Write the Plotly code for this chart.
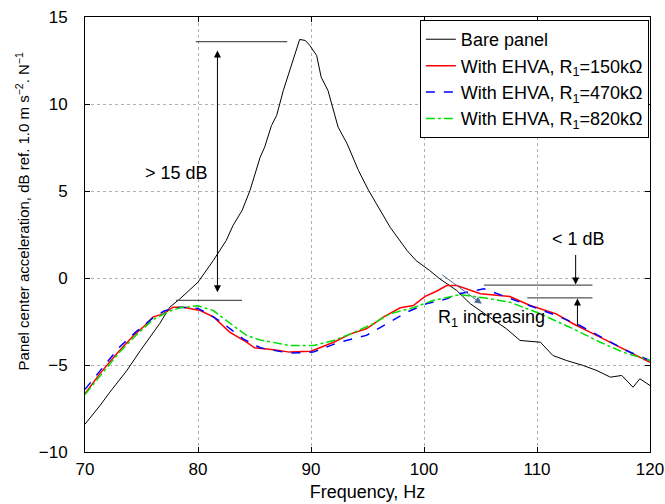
import plotly.graph_objects as go

# ---- data ----
bare_f = [70, 71.33, 72.2, 73.7, 74.9, 75.9, 76.6, 77.5, 78.4, 80.0, 81.35, 82.5, 83.1, 83.9, 84.6,
          85.5, 85.9, 86.5, 86.96, 87.55, 88.1, 88.6, 89.0, 89.5, 89.9, 90.5, 90.9, 91.5, 92.0, 92.4,
          93.2, 94.2, 95.1, 96.3, 97.0, 98.5, 99.3, 100.5, 101.4, 102.9, 104.1, 105.8, 107.3, 108.5,
          110.3, 111.4, 112.6, 114.1, 115.3, 116.5, 117.5, 118.5, 119.1, 120]
bare_v = [-8.4, -7.33, -6.56, -5.32, -4.17, -3.30, -2.63, -1.68, -1.20, -0.24, 1.0, 2.16, 3.02, 3.88, 5.03,
          6.94, 7.52, 8.76, 9.34, 10.78, 11.93, 12.98, 13.71, 13.65, 13.36, 12.79, 11.54, 10.78, 9.63, 8.67,
          7.71, 6.18, 5.03, 3.69, 2.92, 1.58, 1.0, 0.43, -0.05, -0.72, -1.48, -2.25, -2.92, -3.59,
          -3.69, -4.45, -4.74, -5.03, -5.32, -5.70, -5.60, -6.28, -5.79, -6.18]

r150_f = [70, 71.3, 72.8, 74.3, 75.3, 76.0, 76.9, 77.8, 78.7, 80.2, 81.4, 82.8, 84.3, 85.0, 86.7, 88.1,
          90.0, 92.0, 93.5, 94.9, 96.4, 97.9, 99.05, 100.1, 101.1, 102.0, 102.9, 105.0, 107.6, 109.4,
          111.7, 113.2, 115.0, 117.3, 120]
r150_v = [-6.66, -5.51, -4.36, -3.30, -2.73, -2.25, -2.06, -1.68, -1.68, -1.87, -2.25, -3.11, -3.69, -4.01,
          -4.13, -4.26, -4.21, -3.69, -3.21, -2.92, -2.25, -1.71, -1.58, -1.06, -0.76, -0.43, -0.43, -0.91,
          -1.06, -1.58, -2.06, -2.63, -3.21, -3.98, -4.84]

r470_f = [70, 71.5, 73, 74.5, 76, 77, 78, 79, 80, 81, 82, 83, 84, 85.5, 88.1, 90.2, 92.5, 94.9, 96.4,
          98.5, 100.2, 102.0, 103.1, 105.3, 107.3, 109.4, 111.7, 113.8, 116.2, 117.9, 120]
r470_v = [-6.4, -5.2, -4.0, -3.1, -2.3, -1.9, -1.7, -1.7, -1.75, -2.1, -2.5, -3.0, -3.5, -4.01, -4.32,
          -4.26, -3.69, -3.30, -2.73, -1.96, -1.48, -1.20, -0.91, -0.62, -1.10, -1.58, -2.15, -2.73,
          -3.59, -4.17, -4.74]

r820_f = [70, 71.5, 73, 74.5, 76, 77.5, 78.5, 80, 81.35, 83.1, 84.3, 85.5, 88.1, 90.2, 92.0, 93.5, 95.5,
          97.0, 99.05, 100.8, 103.2, 105.3, 107.6, 110.3, 113.2, 115.6, 117.6, 120]
r820_v = [-6.7, -5.5, -4.3, -3.3, -2.4, -1.9, -1.7, -1.6, -1.87, -2.73, -3.30, -3.56, -3.88, -3.88, -3.59,
          -3.21, -2.63, -2.06, -1.71, -1.29, -0.95, -1.14, -1.39, -2.06, -2.92, -3.69, -4.26, -4.74]

x_ticks = [70, 80, 90, 100, 110, 120]
y_ticks = [-10, -5, 0, 5, 10, 15]

names = ["Bare panel",
         "With EHVA, R<sub>1</sub>=150kΩ",
         "With EHVA, R<sub>1</sub>=470kΩ",
         "With EHVA, R<sub>1</sub>=820kΩ"]

FONT = "Liberation Sans, Arial, Helvetica, sans-serif"

fig = go.Figure()
fig.add_trace(go.Scatter(x=bare_f, y=bare_v, mode="lines", name=names[0],
                         line=dict(color="black", width=1)))
fig.add_trace(go.Scatter(x=r150_f, y=r150_v, mode="lines", name=names[1],
                         line=dict(color="#ff0000", width=1.5)))
fig.add_trace(go.Scatter(x=r470_f, y=r470_v, mode="lines", name=names[2],
                         line=dict(color="#0000ff", width=1.5, dash="dash")))
fig.add_trace(go.Scatter(x=r820_f, y=r820_v, mode="lines", name=names[3],
                         line=dict(color="#00e000", width=1.5, dash="dashdot")))

gray = "#555555"
# horizontal reference lines
for (x0, x1, y) in [(79.8, 87.9, 13.59), (78.05, 83.9, -1.29), (105.31, 114.91, -0.41), (109.14, 114.91, -1.14)]:
    fig.add_shape(type="line", x0=x0, x1=x1, y0=y, y1=y, xref="x", yref="y",
                  line=dict(color=gray, width=1.3))

# > 15 dB double arrow
fig.add_annotation(x=81.72, y=13.07, ax=81.72, ay=-0.91, xref="x", yref="y", axref="x", ayref="y",
                   text="", showarrow=True, arrowhead=2, arrowside="end+start", arrowsize=1.4,
                   arrowwidth=1, arrowcolor="black")
# < 1 dB arrows
fig.add_annotation(x=113.42, y=-0.37, ax=113.42, ay=1.41, xref="x", yref="y", axref="x", ayref="y",
                   text="", showarrow=True, arrowhead=2, arrowsize=1.4, arrowwidth=1, arrowcolor="black")
fig.add_annotation(x=113.58, y=-1.18, ax=113.58, ay=-2.84, xref="x", yref="y", axref="x", ayref="y",
                   text="", showarrow=True, arrowhead=2, arrowsize=1.4, arrowwidth=1, arrowcolor="black")
# R1 increasing arrow
fig.add_annotation(x=105.11, y=-1.48, ax=101.48, ay=0.24, xref="x", yref="y", axref="x", ayref="y",
                   text="", showarrow=True, arrowhead=2, arrowsize=1.4, arrowwidth=1, arrowcolor="#4a6896")

# texts
fig.add_annotation(x=78.1, y=6.03, xref="x", yref="y", text="> 15 dB", showarrow=False,
                   font=dict(size=18, color="black", family=FONT))
fig.add_annotation(x=113.67, y=2.27, xref="x", yref="y", text="< 1 dB", showarrow=False,
                   font=dict(size=18, color="black", family=FONT))
fig.add_annotation(x=106.0, y=-2.35, xref="x", yref="y", text="R<sub>1</sub> increasing", showarrow=False,
                   font=dict(size=18, color="black", family=FONT))

# y-axis title placed as a rotated annotation
fig.add_annotation(x=-0.1115, y=0.553, xref="paper", yref="paper", xanchor="center", yanchor="middle",
                   text="Panel center acceleration, dB ref. 1.0 m s<sup>−2</sup>. N<sup>−1</sup>",
                   textangle=-90, showarrow=False, font=dict(size=15, color="black", family=FONT))

axis_common = dict(showline=True, linecolor="black", linewidth=1, mirror="ticks",
                   ticks="inside", ticklen=5, tickcolor="black", automargin=False,
                   ticklabeloverflow="allow",
                   showgrid=True, gridcolor="#b0b0b0", griddash="dot", gridwidth=1,
                   zeroline=False, tickfont=dict(size=17, color="black", family=FONT))

fig.update_xaxes(range=[70, 120], tickvals=x_ticks, ticktext=[str(t) for t in x_ticks],
                 title=dict(text="Frequency, Hz", font=dict(size=18, color="black", family=FONT), standoff=6),
                 ticklabelstandoff=2, **axis_common)
fig.update_yaxes(range=[-10, 15], tickvals=y_ticks, ticktext=[str(t).replace("-", "−") for t in y_ticks],
                 ticklabelstandoff=13, **axis_common)

fig.update_layout(
    width=665, height=504,
    margin=dict(l=85, r=15, t=17, b=52, autoexpand=False),
    paper_bgcolor="white", plot_bgcolor="white",
    font=dict(family=FONT, color="black"),
    showlegend=True,
    hovermode=False,
    legend=dict(x=0.998, y=0.993, xanchor="right", yanchor="top",
                bgcolor="white", bordercolor="black", borderwidth=1,
                font=dict(size=18, color="black", family=FONT),
                tracegroupgap=0),
)

fig.write_html("out.html", config={"displayModeBar": False},
               post_script="document.body.style.margin='0';")
